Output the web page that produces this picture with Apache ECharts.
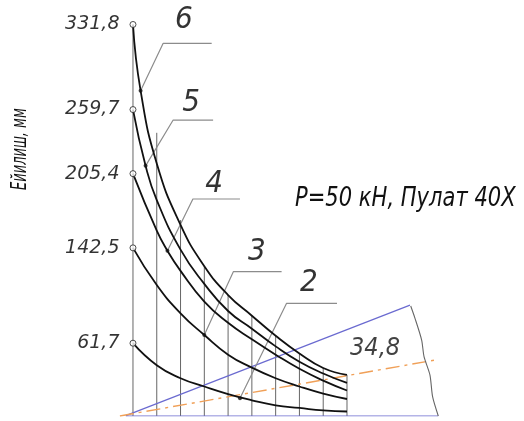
<!DOCTYPE html>
<html>
<head>
<meta charset="utf-8">
<script src="https://cdn.jsdelivr.net/npm/echarts@6/dist/echarts.min.js"></script>
<style>html,body{margin:0;padding:0;background:#fff}#c{width:524px;height:421px}</style>
</head>
<body>
<div id="c"></div>
<script>
// ---- data ----
const tickValues = [61.7, 142.5, 205.4, 259.7, 331.8];
const gridX = [0, 1, 2, 3, 4, 5, 6, 7, 8, 9];
const gridTop = [331.8, 240, 166, 127, 102.5, 85, 68, 53, 40.7, 34.8];

const curve2X = [0, 1, 2, 3, 4, 5, 6, 7, 8, 9];
const curve2Y = [61.7, 43, 32, 25, 18.6, 13.3, 9, 6.8, 4.7, 3.8];
const curve3X = [0, 1, 2, 3, 4, 5, 6, 7, 8, 9];
const curve3Y = [142.5, 111, 87, 68.6, 52, 41, 32, 25, 19, 14.4];
const curve4X = [0, 1, 1.45, 2, 3, 4, 5, 6, 7, 8, 9];
const curve4Y = [205.4, 157, 140, 123, 97, 79, 65, 52, 40, 30, 21.6];
const curve5X = [0, 0.53, 1, 2, 3, 4, 5, 6, 7, 8, 9];
const curve5Y = [259.7, 212, 183, 141, 112, 89, 74, 59, 46, 36, 28];
const curve6X = [0, 0.32, 1, 2, 3, 4, 5, 6, 7, 8, 9];
const curve6Y = [331.8, 275.7, 214, 162, 127, 102.5, 85, 68, 53, 40.7, 34.8];

const curveNames = ['2', '3', '4', '5', '6'];
const leaderDots = [[4.5, 15], [3, 68.6], [1.45, 140], [0.53, 212], [0.32, 275.7]];
const leaderKnees = [[6.46, 95.5], [4.22, 122.3], [2.52, 183.9], [1.69, 250.8], [1.27, 315.8]];
const leaderEnds = [[8.58, 95.5], [6.25, 122.3], [4.5, 183.9], [3.37, 250.8], [3.31, 315.8]];
const curveLabelPos = [[7.4, 112.7], [5.21, 139], [3.41, 196.6], [2.44, 265.3], [2.14, 335.6]];

const blueLine = [[-0.3, 0.3], [11.65, 94]];
const baseLine = [[-0.3, 0], [12.84, 0]];
const orangeLine = [[-0.55, 0], [12.83, 47.9]];
const breakLineX = [11.68, 11.86, 12.14, 12.24, 12.49, 12.60, 12.84];
const breakLineY = [93.2, 82.8, 64.4, 50.3, 34.7, 16.4, 0];
const endLabel = '34,8';
const endLabelPos = [10.18, 56.8];

const titleText = 'P=50 кН, Пулат 40Х';
const yName = 'Ейилиш, мм';

// ---- chart ----
const zip = (xs, ys) => xs.map((x, i) => [x, ys[i]]);
const fmt = v => String(v).replace('.', ',');
const FONT = 'DejaVu Sans';
const CLEAR = 'rgba(0,0,0,0)';

const curves = [[curve2X, curve2Y], [curve3X, curve3Y], [curve4X, curve4Y], [curve5X, curve5Y], [curve6X, curve6Y]];

const series = [];
series.push({
  type: 'custom', z: 1, silent: true,
  data: gridX.map((x, i) => [x, gridTop[i]]),
  renderItem: (params, api) => {
    const p0 = api.coord([api.value(0), 0]);
    const p1 = api.coord([api.value(0), api.value(1)]);
    return { type: 'line', shape: { x1: p0[0], y1: p0[1], x2: p1[0], y2: p1[1] },
      style: { stroke: '#666', lineWidth: 1 } };
  }
});
series.push({ type: 'line', z: 2, data: baseLine, symbol: 'none', lineStyle: { color: '#6a6ad0', width: 1.2 } });
series.push({ type: 'line', z: 2, data: blueLine, symbol: 'none', lineStyle: { color: '#6a6ad0', width: 1.2 } });
series.push({ type: 'line', z: 2, data: orangeLine, symbol: 'none', lineStyle: { color: '#f0a058', width: 1.4, type: [14, 5, 3, 5] } });
series.push({ type: 'line', z: 2, data: zip(breakLineX, breakLineY), symbol: 'none', smooth: 0.25, lineStyle: { color: '#666', width: 1.1 } });
curves.forEach(c => {
  series.push({ type: 'line', z: 4, data: zip(c[0], c[1]), symbol: 'none', smooth: 0.5,
    lineStyle: { color: '#111', width: 1.8 } });
});
curveNames.forEach((n, i) => {
  series.push({ type: 'line', z: 3, data: [leaderDots[i], leaderKnees[i], leaderEnds[i]], symbol: 'none',
    lineStyle: { color: '#8c8c8c', width: 1.2 } });
});
series.push({ type: 'scatter', z: 6, data: leaderDots, symbol: 'circle', symbolSize: 4, itemStyle: { color: '#111' } });
series.push({
  type: 'scatter', z: 7, data: tickValues.map(v => [0, v]), symbol: 'circle', symbolSize: 6,
  itemStyle: { color: '#fff', borderColor: '#222', borderWidth: 1 },
  label: { show: true, position: 'left', distance: 10, formatter: p => fmt(p.value[1]),
    fontFamily: FONT, fontStyle: 'italic', fontWeight: 200, fontSize: 19, color: '#000' }
});
series.push({
  type: 'scatter', z: 7, data: curveLabelPos.map((p, i) => ({ value: p, name: curveNames[i] })), symbolSize: 1,
  itemStyle: { color: CLEAR },
  label: { show: true, position: 'inside', formatter: p => p.name,
    fontFamily: 'DejaVu Sans Condensed', fontStyle: 'italic', fontWeight: 200, fontSize: 31, color: '#000' }
});
series.push({
  type: 'scatter', z: 7, data: [{ value: endLabelPos, name: endLabel }], symbolSize: 1,
  itemStyle: { color: CLEAR },
  label: { show: true, position: 'inside', formatter: p => p.name,
    fontFamily: 'DejaVu Sans Condensed', fontStyle: 'italic', fontWeight: 200, fontSize: 25, color: '#111' }
});

const chart = echarts.init(document.getElementById('c'), null, { renderer: 'canvas' });
chart.setOption({
  animation: false,
  backgroundColor: '#fff',
  grid: { left: 109.2, right: 81.9, top: 3, bottom: 5 },
  xAxis: { type: 'value', min: -1, max: 13, show: false },
  yAxis: { type: 'value', min: 0, max: 350, show: false },
  graphic: [
    { type: 'text', left: 295, top: 186, scaleX: 0.81, originX: 0,
      style: { text: titleText, font: 'italic 200 26px "DejaVu Sans"', fill: '#111' } },
    { type: 'text', x: 10, y: 190, rotation: Math.PI / 2, scaleX: 0.62,
      style: { text: yName, font: 'italic 200 21px "DejaVu Sans"', fill: '#111' } }
  ],
  series: series
});
</script>
</body>
</html>
